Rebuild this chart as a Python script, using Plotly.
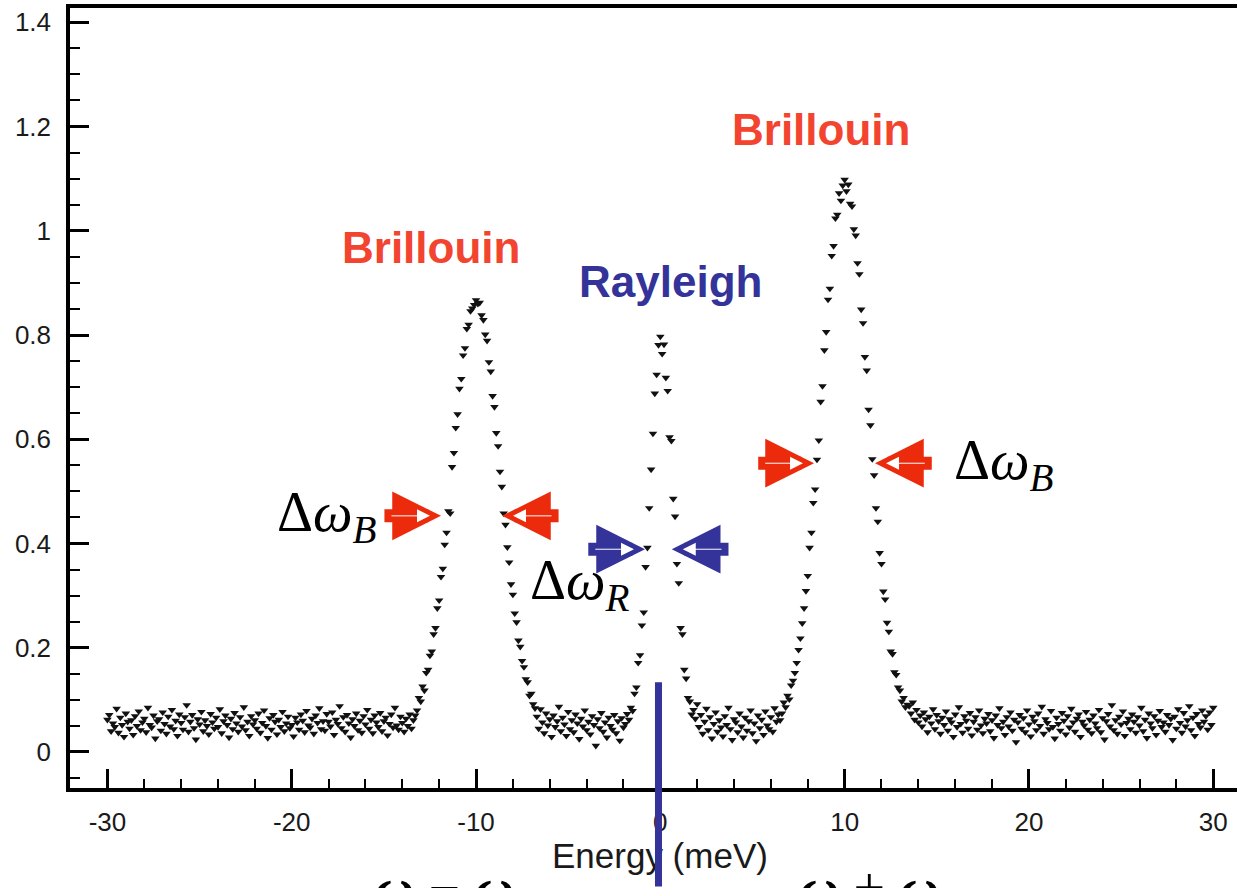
import numpy as np
import plotly.graph_objects as go

# ---------------- data (intensity in thousandths, energy grid -30..30 meV step 0.1) ----------------
bg_a = [  # -30.0 .. -13.3
    62, 71, 40, 55, 48, 83, 37, 66, 52, 29, 74, 58, 45, 61, 33, 69, 50, 78, 42, 57,
    64, 38, 85, 52, 47, 70, 26, 59, 63, 41, 76, 54, 35, 68, 49, 81, 44, 60, 31, 72,
    56, 43, 67, 90, 39, 58, 71, 46, 24, 63, 53, 77, 40, 61, 50, 34, 73, 57, 45, 66,
    48, 82, 36, 59, 70, 52, 28, 64, 44, 75, 55, 39, 67, 49, 86, 42, 58, 31, 69, 53,
    61, 45, 74, 37, 56, 80, 50, 27, 65, 43, 71, 58, 34, 62, 48, 77, 40, 55, 68, 46,
    52, 30, 66, 57, 43, 72, 60, 38, 79, 51, 47, 64, 35, 70, 56, 84, 44, 59, 41, 73,
    58, 49, 76, 33, 62, 54, 88, 46, 67, 39, 71, 55, 28, 63, 50, 74, 42, 60, 37, 69,
    53, 81, 45, 62, 36, 70, 57, 48, 75, 40, 59, 66, 32, 54, 72, 47, 85, 51, 43, 68,
    56, 39, 64, 50, 72, 45, 61, 70,
]
stokes = [  # -13.2 .. -6.8  (Brillouin, Stokes side)
    80, 104, 97, 126, 118, 152, 158, 185, 193, 226,
    238, 276, 291, 336, 352, 398, 421, 462, 458, 547,
    574, 622, 648, 697, 716, 761, 775, 812, 820, 846,
    851, 858, 867, 860, 862, 838, 829, 801, 789, 748,
    730, 683, 662, 612, 587, 538, 509, 458, 436, 393,
    364, 322, 302, 266, 249, 214, 202, 175, 163, 140,
    134, 108, 112, 92, 84,
]
bg_b = [  # -6.7 .. -1.8
    68, 45, 82, 57, 36, 74, 51, 63, 29, 70, 48, 59, 87, 40, 66, 53, 31, 77, 44, 61,
    38, 72, 55, 25, 64, 49, 80, 42, 58, 34, 69, 52, 12, 63, 46, 75, 39, 57, 28, 66,
    50, 43, 71, 36, 59, 22, 65, 47, 54, 73,
]
rayleigh = [  # -1.7 .. 1.8
    62, 85, 79, 112, 124, 171, 186, 243, 268, 355,
    392, 468, 542, 611, 688, 724, 781, 797, 764, 782,
    718, 693, 604, 597, 486, 452, 361, 324, 238, 226,
    158, 141, 104, 97, 72, 81,
]
bg_c = [  # 1.9 .. 6.5
    64, 92, 48, 71, 35, 58, 83, 42, 67, 26, 54, 76, 39, 61, 47, 30, 69, 52, 85, 44,
    23, 63, 57, 38, 74, 49, 28, 66, 41, 59, 80, 36, 55, 21, 70, 46, 62, 33, 78, 51,
    44, 67, 39, 84, 58, 72, 61,
]
antistokes = [  # 6.6 .. 13.4  (Brillouin, anti-Stokes side)
    74, 95, 86, 108, 101, 128, 137, 152, 171, 196,
    218, 247, 276, 309, 338, 392, 421, 478, 504, 561,
    598, 672, 702, 771, 806, 868, 889, 952, 971, 1024,
    1031, 1072, 1058, 1087, 1098, 1076, 1089, 1052, 1047, 1003,
    991, 938, 917, 849, 823, 758, 732, 657, 627, 562,
    531, 468, 442, 382, 361, 308, 293, 248, 231, 193,
    188, 153, 148, 124, 118, 97, 104, 86, 91,
]
bg_d = [  # 13.5 .. 30.0
    88, 74, 95, 62, 81, 57, 70, 49, 76, 63, 38, 68, 55, 82, 44, 71, 59, 35, 66, 52,
    78, 41, 63, 57, 29, 72, 48, 86, 54, 37, 69, 60, 45, 75, 32, 58, 67, 43, 80, 51,
    36, 64, 55, 73, 40, 61, 27, 70, 52, 84, 46, 58, 33, 67, 49, 76, 41, 62, 19, 57,
    71, 45, 65, 38, 80, 53, 30, 68, 59, 42, 74, 50, 87, 35, 63, 56, 44, 79, 48, 26,
    66, 54, 41, 75, 60, 34, 69, 47, 83, 57, 39, 64, 72, 29, 58, 51, 77, 43, 62, 36,
    70, 55, 46, 81, 38, 65, 24, 59, 73, 49, 90, 42, 61, 35, 68, 53, 78, 31, 56, 64,
    44, 72, 58, 37, 67, 51, 85, 40, 62, 27, 74, 55, 46, 69, 33, 60, 79, 48, 57, 39,
    71, 52, 64, 23, 68, 45, 82, 56, 37, 75, 49, 61, 88, 42, 66, 31, 73, 54, 47, 80,
    58, 69, 43, 76, 52, 85,
]
energy_start, energy_stop = -30.0, 30.0

x_tickvals = [-30, -20, -10, 0, 10, 20, 30]
x_ticktext = ["-30", "-20", "-10", "0", "10", "20", "30"]
y_tickvals = [0, 0.2, 0.4, 0.6, 0.8, 1.0, 1.2, 1.4]
y_ticktext = ["0", "0.2", "0.4", "0.6", "0.8", "1", "1.2", "1.4"]

intensity_milli = bg_a + stokes + bg_b + rayleigh + bg_c + antistokes + bg_d
energy = np.round(np.linspace(energy_start, energy_stop, len(intensity_milli)), 1)
intensity = np.array(intensity_milli) / 1000.0

RED_TXT = "#F2442E"
RED_ARW = "#EC2A0C"
BLUE = "#333399"
SANS = "Liberation Sans, Arial, Helvetica, sans-serif"
SERIF = "Liberation Serif, Times New Roman, serif"

fig = go.Figure(go.Scatter(
    x=energy, y=intensity, mode="markers",
    marker=dict(symbol="triangle-down", size=7.5, color="#111111", line=dict(width=0)),
    hoverinfo="skip",
))

axis_common = dict(
    showgrid=False, zeroline=False, showline=True, linewidth=3.5, linecolor="black",
    ticks="inside", ticklen=19, tickwidth=3, tickcolor="black",
    tickfont=dict(family=SANS, size=26, color="#1a1a1a"),
)

fig.update_layout(
    width=1237, height=888,
    margin=dict(l=70, r=0, t=8, b=100),
    plot_bgcolor="white", paper_bgcolor="white",
    showlegend=False,
    xaxis=dict(
        range=[-32.03, 31.29], mirror=True,
        tickmode="array", tickvals=x_tickvals, ticktext=x_ticktext,
        ticklabelstandoff=8,
        minor=dict(tickmode="linear", tick0=0, dtick=2, ticks="inside", ticklen=9,
                   tickwidth=2, tickcolor="black", showgrid=False),
        **axis_common,
    ),
    yaxis=dict(
        range=[-0.0691, 1.4274], mirror=False,
        tickmode="array", tickvals=y_tickvals, ticktext=y_ticktext,
        ticklabelstandoff=10,
        minor=dict(tickmode="linear", tick0=0, dtick=0.05, ticks="inside", ticklen=10,
                   tickwidth=2, tickcolor="black", showgrid=False),
        **axis_common,
    ),
)

ann = []
# peak labels
ann.append(dict(x=-12.44, y=0.968, xref="x", yref="y", showarrow=False,
                text="<b>Brillouin</b>", font=dict(family=SANS, size=44, color=RED_TXT)))
ann.append(dict(x=8.72, y=1.194, xref="x", yref="y", showarrow=False,
                text="<b>Brillouin</b>", font=dict(family=SANS, size=44, color=RED_TXT)))
ann.append(dict(x=0.53, y=0.902, xref="x", yref="y", showarrow=False,
                text="<b>Rayleigh</b>", font=dict(family=SANS, size=44, color=BLUE)))

# width labels
ann.append(dict(x=-18.07, y=0.452, xref="x", yref="y", showarrow=False,
                text="Δ<i>ω</i><sub><i>B</i></sub>", font=dict(family=SERIF, size=56, color="black")))
ann.append(dict(x=18.65, y=0.552, xref="x", yref="y", showarrow=False,
                text="Δ<i>ω</i><sub><i>B</i></sub>", font=dict(family=SERIF, size=56, color="black")))
ann.append(dict(x=-4.36, y=0.322, xref="x", yref="y", showarrow=False,
                text="Δ<i>ω</i><sub><i>R</i></sub>", font=dict(family=SERIF, size=56, color="black")))

# width arrows: (tip_x, tip_y, tail_x, colour)
arrows = [
    (-11.90, 0.453, -15.05, RED_ARW),
    (-8.59, 0.453, -5.44, RED_ARW),
    (-0.83, 0.389, -3.99, BLUE),
    (0.62, 0.389, 3.78, BLUE),
    (8.34, 0.554, 5.23, RED_ARW),
    (11.65, 0.554, 14.81, RED_ARW),
]
px_per_unit = 18.43
for tip_x, tip_y, tail_x, col in arrows:
    d = 1 if tail_x < tip_x else -1
    ann.append(dict(x=tip_x, y=tip_y, xref="x", yref="y", ax=tail_x, ay=tip_y,
                    axref="x", ayref="y", text="", showarrow=True,
                    arrowhead=2, arrowwidth=13, arrowsize=0.75, arrowcolor=col, standoff=0))
    # hollow centre of the arrow
    inner_tip = tip_x - d * 11 / px_per_unit
    inner_tail = tail_x + d * 7 / px_per_unit
    ann.append(dict(x=inner_tip, y=tip_y, xref="x", yref="y", ax=inner_tail, ay=tip_y,
                    axref="x", ayref="y", text="", showarrow=True,
                    arrowhead=2, arrowwidth=1, arrowsize=2.6, arrowcolor="white", standoff=0))

# x-axis title (as annotation so the blue marker line can sit above it)
ann.append(dict(x=0.5056, y=-0.087, xref="paper", yref="paper", showarrow=False,
                text="Energy (meV)", font=dict(family=SANS, size=35, color="#1a1a1a"),
                xanchor="center", yanchor="middle"))
# bottom labels (cut off by the image edge)
ann.append(dict(x=0.3213, y=-0.086, xref="paper", yref="paper", showarrow=False,
                text="<i><b>ω</b></i> − <i><b>ω</b></i>", font=dict(family=SERIF, size=56, color="black"),
                xanchor="center", yanchor="top"))
ann.append(dict(x=0.6855, y=-0.086, xref="paper", yref="paper", showarrow=False,
                text="<i><b>ω</b></i> + <i><b>ω</b></i>", font=dict(family=SERIF, size=56, color="black"),
                xanchor="center", yanchor="top"))
# blue vertical line at zero energy
ann.append(dict(x=-0.1, y=0.134, xref="x", yref="y", ax=0, ay=240, text="",
                showarrow=True, arrowhead=0, arrowwidth=7, arrowcolor=BLUE, standoff=0))

fig.update_layout(annotations=ann)
fig.write_html(
    "out.html",
    config={"displayModeBar": False},
    post_script="document.body.style.margin='0';document.body.style.overflow='hidden';",
)
